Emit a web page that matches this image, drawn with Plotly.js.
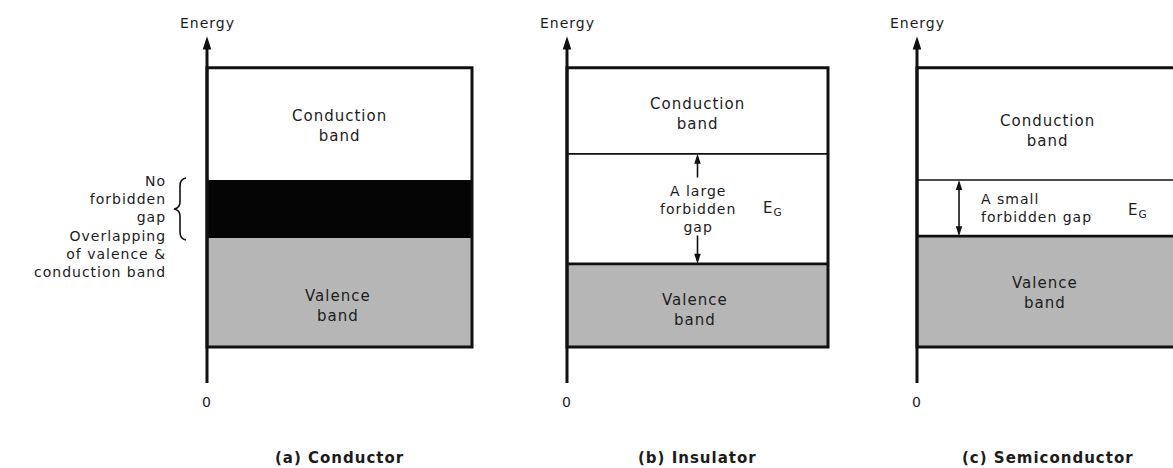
<!DOCTYPE html>
<html>
<head>
<meta charset="utf-8">
<script src="https://cdn.plot.ly/plotly-3.0.1.min.js"></script>
<style>
html,body{margin:0;padding:0;background:#fff;}
#chart{width:1173px;height:468px;}
svg text{letter-spacing:1px;}
</style>
</head>
<body>
<div id="chart"></div>
<script>
// ---------- data ----------
const panels = ['(a) Conductor', '(b) Insulator', '(c) Semiconductor'];
const bandTop = [10, 10, 10];
const conductionBottom = [4.60, 7.27, 6.44];
const valenceTop = [6.44, 3.78, 4.66];
const valenceBottom = [1.14, 1.14, 1.14];
const energyAxisMax = 11;
const axisLabel = 'Energy';
const originLabel = '0';
const conductionLabel = 'Conduction<br>band';
const valenceLabel = 'Valence<br>band';
const gapLabels = ['', 'A large<br>forbidden<br>gap', 'A small<br>forbidden gap'];
const gapSymbol = 'E<sub>G</sub>';
const overlapLabel = 'No<br>forbidden<br>gap<br>Overlapping<br>of valence &amp;<br>conduction band';

// ---------- layout helpers ----------
const W = 1173, H = 468;
const fx = px => px / W;
const fy = py => 1 - py / H;
const frames = [
  {d0: 0, d1: 490, b0: 207, b1: 472},
  {d0: 490, d1: 860, b0: 567, b1: 828},
  {d0: 860, d1: 1173, b0: 917, b1: 1178}
];
const axIds = ['x', 'x2', 'x3'];
const axKeys = ['xaxis', 'xaxis2', 'xaxis3'];
const FONT = 'DejaVu Sans, Arial, sans-serif';
const TXT = '#1c1c1c';
const INK = '#111';
const GREY = '#b6b6b6';

const layout = {
  width: W, height: H,
  margin: {l: 0, r: 0, t: 0, b: 0},
  paper_bgcolor: '#fff', plot_bgcolor: 'rgba(0,0,0,0)',
  showlegend: false,
  yaxis: {domain: [fy(383), fy(30)], range: [0, 11.2], visible: false, fixedrange: true},
  shapes: [], annotations: [],
  font: {family: FONT, size: 15, color: TXT}
};

const traces = [];
const condLabelY = [8.17, 8.53, 8.0];
const valLabelY = [2.44, 2.32, 2.87];
const valLabelX = [0.494, 0.49, 0.49];

function arrowLine(xr, x, y0, y1, width, headSize, heads) {
  // shaft
  traces.push({type: 'scatter', mode: 'lines', xaxis: xr, yaxis: 'y',
    x: [x, x], y: [y0, y1], line: {color: INK, width: width}, hoverinfo: 'skip', cliponaxis: false});
  // heads: list of {y, angle}
  traces.push({type: 'scatter', mode: 'markers', xaxis: xr, yaxis: 'y',
    x: heads.map(() => x), y: heads.map(h => h.y),
    marker: {symbol: 'arrow', size: headSize, color: INK, angle: heads.map(h => h.angle), line: {width: 0}},
    hoverinfo: 'skip', cliponaxis: false});
}

panels.forEach((name, i) => {
  const f = frames[i];
  const s = f.b1 - f.b0;
  layout[axKeys[i]] = {
    domain: [fx(f.d0), fx(f.d1)],
    range: [(f.d0 - f.b0) / s, (f.d1 - f.b0) / s],
    visible: false, fixedrange: true, anchor: 'y'
  };
  const xr = axIds[i];
  const cb = conductionBottom[i], vt = valenceTop[i], vb = valenceBottom[i], top = bandTop[i];
  const greyTop = Math.min(vt, cb);
  traces.push({
    type: 'scatter', mode: 'lines', xaxis: xr, yaxis: 'y',
    x: [0, 1, 1, 0, 0], y: [vb, vb, greyTop, greyTop, vb],
    fill: 'toself', fillcolor: GREY, line: {width: 0}, hoverinfo: 'skip'
  });
  if (vt > cb) {
    traces.push({
      type: 'scatter', mode: 'lines', xaxis: xr, yaxis: 'y',
      x: [0, 1, 1, 0, 0], y: [cb, cb, vt, vt, cb],
      fill: 'toself', fillcolor: '#050505', line: {width: 0}, hoverinfo: 'skip'
    });
  } else {
    layout.shapes.push({type: 'line', xref: xr, yref: 'y', x0: 0, x1: 1, y0: cb, y1: cb,
      line: {color: INK, width: 1.6}});
    layout.shapes.push({type: 'line', xref: xr, yref: 'y', x0: 0, x1: 1, y0: vt, y1: vt,
      line: {color: INK, width: 2.6}});
  }
  layout.shapes.push({type: 'rect', xref: xr, yref: 'y', x0: 0, x1: 1, y0: vb, y1: top,
    line: {color: INK, width: 3}, fillcolor: 'rgba(0,0,0,0)'});
  // energy axis with arrow head
  arrowLine(xr, 0, 0, energyAxisMax - 0.25, 3, 14, [{y: energyAxisMax, angle: 0}]);
  // labels
  layout.annotations.push({xref: xr, yref: 'paper', x: 0, y: fy(23), text: axisLabel,
    showarrow: false, xanchor: 'center', yanchor: 'middle', font: {size: 14}});
  layout.annotations.push({xref: xr, yref: 'paper', x: 0, y: fy(402), text: originLabel,
    showarrow: false, xanchor: 'center', yanchor: 'middle', font: {size: 14}});
  layout.annotations.push({xref: xr, yref: 'paper', x: 0.5, y: fy(458), text: '<b>' + name + '</b>',
    showarrow: false, xanchor: 'center', yanchor: 'middle', font: {size: 15}});
  layout.annotations.push({xref: xr, yref: 'y', x: 0.5, y: condLabelY[i], text: conductionLabel,
    showarrow: false, xanchor: 'center', yanchor: 'middle', align: 'center'});
  layout.annotations.push({xref: xr, yref: 'y', x: valLabelX[i], y: valLabelY[i], text: valenceLabel,
    showarrow: false, xanchor: 'center', yanchor: 'middle', align: 'center'});
});

// insulator gap arrows and labels
const midB = (conductionBottom[1] + valenceTop[1]) / 2;
arrowLine('x2', 0.5, conductionBottom[1] - 0.75, conductionBottom[1] - 0.1, 1.6, 10.5,
  [{y: conductionBottom[1], angle: 0}]);
arrowLine('x2', 0.5, valenceTop[1] + 0.9, valenceTop[1] + 0.1, 1.6, 10.5,
  [{y: valenceTop[1], angle: 180}]);
layout.annotations.push({xref: 'x2', yref: 'y', x: 0.5, y: midB,
  text: gapLabels[1], showarrow: false, xanchor: 'center', yanchor: 'middle', align: 'center',
  font: {size: 14}});
layout.annotations.push({xref: 'x2', yref: 'y', x: 0.745, y: midB,
  text: gapSymbol, showarrow: false, xanchor: 'left', yanchor: 'middle', font: {size: 15}});

// semiconductor gap arrow and labels
const midC = (conductionBottom[2] + valenceTop[2]) / 2;
arrowLine('x3', 0.161, valenceTop[2] + 0.1, conductionBottom[2] - 0.1, 1.6, 10.5,
  [{y: conductionBottom[2], angle: 0}, {y: valenceTop[2], angle: 180}]);
layout.annotations.push({xref: 'x3', yref: 'y', x: 0.238, y: midC,
  text: gapLabels[2], showarrow: false, xanchor: 'left', yanchor: 'middle', align: 'left',
  font: {size: 14}});
layout.annotations.push({xref: 'x3', yref: 'y', x: 0.80, y: midC - 0.08,
  text: gapSymbol, showarrow: false, xanchor: 'left', yanchor: 'middle', font: {size: 15}});

// conductor: overlap explanation with brace
layout.annotations.push({xref: 'paper', yref: 'paper', x: fx(168), y: fy(226),
  text: overlapLabel, showarrow: false, xanchor: 'right', yanchor: 'middle', align: 'right',
  font: {size: 14}});
const P = (px, py) => fx(px).toFixed(5) + ',' + fy(py).toFixed(5);
layout.shapes.push({type: 'path', xref: 'paper', yref: 'paper',
  path: 'M' + P(186, 178) + ' Q' + P(180, 179) + ' ' + P(180, 186) +
        ' L' + P(180, 202) + ' Q' + P(180, 208) + ' ' + P(174, 209) +
        ' Q' + P(180, 210) + ' ' + P(180, 216) +
        ' L' + P(180, 232) + ' Q' + P(180, 239) + ' ' + P(186, 240),
  line: {color: INK, width: 1.6}, fillcolor: 'rgba(0,0,0,0)'});

Plotly.newPlot('chart', traces, layout, {staticPlot: true, displayModeBar: false});
</script>
</body>
</html>
